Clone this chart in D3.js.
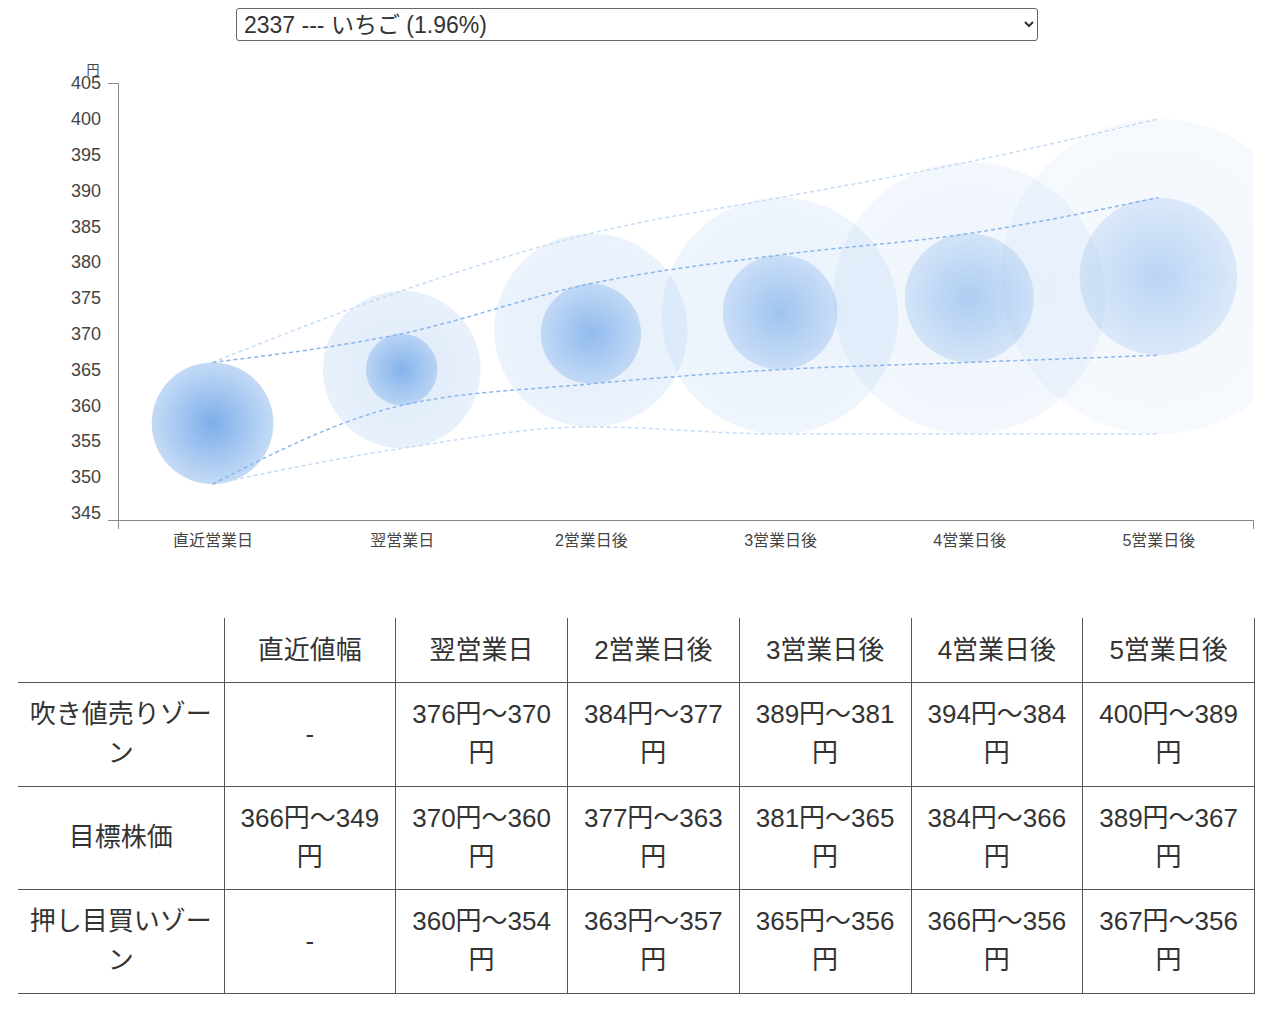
<!DOCTYPE html>
<html>
<head>
<meta charset="utf-8">
<script src="https://cdn.jsdelivr.net/npm/d3@7/dist/d3.min.js"></script>
<style>
  html, body { margin: 0; padding: 0; background: #fff; }
  body { width: 1280px; height: 1010px; position: relative; overflow: hidden;
         font-family: "Liberation Sans", "Noto Sans CJK JP", sans-serif; color: #333; }
  #sel { position: absolute; left: 236px; top: 8px; width: 802px; height: 33px;
         font-size: 23px; font-family: "Liberation Sans", "Noto Sans CJK JP", sans-serif;
         color: #333; border: 1px solid #666; border-radius: 3px; background: #fff; padding: 0 3px; }
  #chart { position: absolute; left: 0; top: 0; }
  table { position: absolute; left: 18px; top: 618px; width: 1237px; border-collapse: collapse;
          table-layout: fixed; font-size: 26px; line-height: 39px; color: #333; }
  td { border: 1px solid #555; text-align: center; vertical-align: middle; padding: 12.3px 8px; }
  tr.head td { border-top: none; height: 39px; padding: 13px 8px 12px 8px; }
  td.first { border-left: none; }
  col.c0 { width: 206px; }
</style>
</head>
<body>
<select id="sel"></select>
<svg id="chart" width="1280" height="600"></svg>
<table id="tbl"></table>
<script>
// ---- data ----
const stockOption = "2337 --- いちご (1.96%)";
const categories = ["直近営業日", "翌営業日", "2営業日後", "3営業日後", "4営業日後", "5営業日後"];
const tableHeaders = ["", "直近値幅", "翌営業日", "2営業日後", "3営業日後", "4営業日後", "5営業日後"];
const rowLabels = ["吹き値売りゾーン", "目標株価", "押し目買いゾーン"];
const targetHigh = [366, 370, 377, 381, 384, 389];
const targetLow  = [349, 360, 363, 365, 366, 367];
const sellHigh   = [null, 376, 384, 389, 394, 400];
const sellLow    = [null, 370, 377, 381, 384, 389];
const buyHigh    = [null, 360, 363, 365, 366, 367];
const buyLow     = [null, 354, 357, 356, 356, 356];
const yTicks = [345, 350, 355, 360, 365, 370, 375, 380, 385, 390, 395, 400, 405];
const yDomain = [344, 405];
const unitLabel = "円";

(function () {
// ---- select ----
d3.select("#sel").append("option").text(stockOption);

// ---- chart ----
const svg = d3.select("#chart");
const pL = 118, pR = 1253, pT = 83, pB = 520;
const x = d3.scalePoint().domain(categories).range([pL, pR]).padding(0.5);
const y = d3.scaleLinear().domain(yDomain).range([pB, pT]);

const defs = svg.append("defs");
defs.append("clipPath").attr("id", "plotclip")
  .append("rect").attr("x", pL).attr("y", pT - 40).attr("width", pR - pL).attr("height", pB - pT + 40);

const innerAlpha = [0.9, 0.8, 0.7, 0.6, 0.5, 0.42];
const outerAlpha = [0, 0.19, 0.16, 0.13, 0.1, 0.075];
const base = "rgb(110,165,232)";

categories.forEach((c, i) => {
  const gi = defs.append("radialGradient").attr("id", "gi" + i);
  gi.append("stop").attr("offset", "0%").attr("stop-color", base).attr("stop-opacity", innerAlpha[i]);
  gi.append("stop").attr("offset", "100%").attr("stop-color", base).attr("stop-opacity", innerAlpha[i] * 0.45);
  const go = defs.append("radialGradient").attr("id", "go" + i);
  go.append("stop").attr("offset", "0%").attr("stop-color", base).attr("stop-opacity", outerAlpha[i] * 1.15);
  go.append("stop").attr("offset", "100%").attr("stop-color", base).attr("stop-opacity", outerAlpha[i] * 0.85);
});

const plot = svg.append("g").attr("clip-path", "url(#plotclip)");

categories.forEach((c, i) => {
  if (sellHigh[i] != null) {
    const hi = sellHigh[i], lo = buyLow[i];
    plot.append("circle")
      .attr("cx", x(c)).attr("cy", y((hi + lo) / 2))
      .attr("r", (y(lo) - y(hi)) / 2)
      .attr("fill", `url(#go${i})`);
  }
  const th = targetHigh[i], tl = targetLow[i];
  plot.append("circle")
    .attr("cx", x(c)).attr("cy", y((th + tl) / 2))
    .attr("r", (y(tl) - y(th)) / 2)
    .attr("fill", `url(#gi${i})`);
});

const line = d3.line().x(d => x(d.c)).y(d => y(d.v)).curve(d3.curveMonotoneX);
const mk = arr => categories.map((c, i) => ({ c, v: arr[i] }));
const outerTop = sellHigh.map((v, i) => v == null ? targetHigh[i] : v);
const outerBot = buyLow.map((v, i) => v == null ? targetLow[i] : v);

[[outerTop, "#c6ddf7"], [outerBot, "#c6ddf7"], [targetHigh, "#8ab6ec"], [targetLow, "#8ab6ec"]].forEach(([arr, col]) => {
  plot.append("path").datum(mk(arr)).attr("d", line)
    .attr("fill", "none").attr("stroke", col).attr("stroke-width", 1.5).attr("stroke-dasharray", "4,3");
});

// axes
const yAxis = d3.axisLeft(y).tickValues(yTicks).tickSizeInner(0).tickSizeOuter(10).tickPadding(17);
const gy = svg.append("g").attr("transform", `translate(${pL},0)`).call(yAxis);
gy.select(".domain").attr("stroke", "#888");
gy.selectAll("text").attr("font-size", 18).attr("fill", "#444")
  .attr("font-family", "Liberation Sans, Noto Sans CJK JP, sans-serif");

const xAxis = d3.axisBottom(x).tickSizeInner(0).tickSizeOuter(9).tickPadding(15);
const gx = svg.append("g").attr("transform", `translate(0,${pB})`).call(xAxis);
gx.select(".domain").attr("stroke", "#888");
gx.selectAll("text").attr("font-size", 16).attr("fill", "#444")
  .attr("font-family", "Liberation Sans, Noto Sans CJK JP, sans-serif");

svg.append("text").attr("x", 93).attr("y", 74).attr("text-anchor", "middle")
  .attr("font-size", 13).attr("fill", "#444").text(unitLabel);

// ---- table ----
const tbl = d3.select("#tbl");
const cg = tbl.append("colgroup");
cg.append("col").attr("class", "c0");
for (let k = 1; k < tableHeaders.length; k++) cg.append("col");
const hr = tbl.append("tr").attr("class", "head");
tableHeaders.forEach((h, k) => hr.append("td").attr("class", k === 0 ? "first" : null).text(h));
const fmt = (hi, lo) => (hi == null ? "-" : `${hi}円〜${lo}円`);
const rows = [
  [rowLabels[0], sellHigh.map((v, i) => fmt(v, sellLow[i]))],
  [rowLabels[1], targetHigh.map((v, i) => fmt(v, targetLow[i]))],
  [rowLabels[2], buyHigh.map((v, i) => fmt(v, buyLow[i]))]
];
rows.forEach(([lab, vals]) => {
  const tr = tbl.append("tr");
  tr.append("td").attr("class", "first").text(lab);
  vals.forEach(v => tr.append("td").text(v));
});
})();
</script>
</body>
</html>
